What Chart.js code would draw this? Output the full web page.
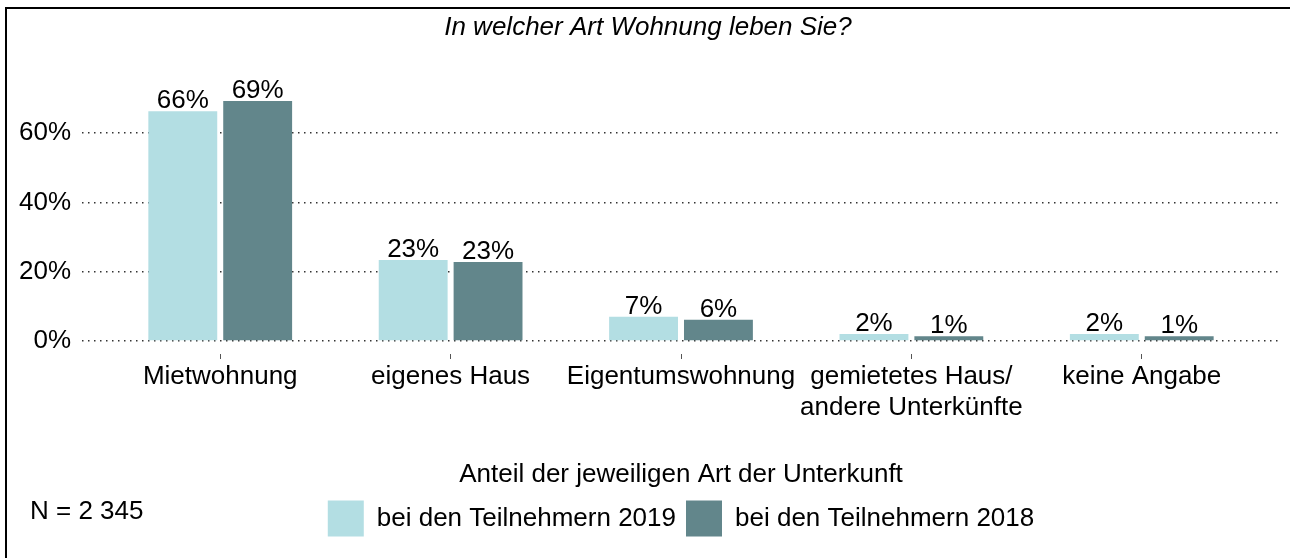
<!DOCTYPE html>
<html>
<head>
<meta charset="utf-8">
<script src="https://cdn.jsdelivr.net/npm/chart.js@4"></script>
<style>
  html, body { margin: 0; padding: 0; background: #fff; overflow: hidden; }
  #wrap { position: relative; width: 1290px; height: 558px; overflow: hidden; }
  #frame { position: absolute; left: 5px; top: 7px; width: 1400px; height: 700px;
           border-left: 2px solid #000; border-top: 2px solid #000; box-sizing: border-box; }
  canvas { position: absolute; left: 0; top: 0; }
</style>
</head>
<body>
<div id="wrap">
  <div id="frame"></div>
  <canvas id="c" width="1290" height="558"></canvas>
</div>
<script>
// ---- data ----
const categories = ['Mietwohnung', 'eigenes Haus', 'Eigentumswohnung', ['gemietetes Haus/', 'andere Unterkünfte'], 'keine Angabe'];
const values2019 = [66.3, 23.4, 7.0, 2.0, 2.0];
const values2018 = [69.2, 22.8, 6.1, 1.4, 1.4];
const seriesNames = ['bei den Teilnehmern 2019', 'bei den Teilnehmern 2018'];
const yTickValues = [0, 20, 40, 60];
const titleText = 'In welcher Art Wohnung leben Sie?';
const legendTitle = 'Anteil der jeweiligen Art der Unterkunft';
const noteText = 'N = 2 345';

const FONT = "'Liberation Sans', Arial, sans-serif";
const LIGHT = '#B3DEE3';
const DARK = '#62868B';

const toPoints = arr => arr.map((v, i) => ({ x: i, y: v }));

const valueLabels = {
  id: 'valueLabels',
  afterDatasetsDraw(chart) {
    const ctx = chart.ctx;
    ctx.save();
    ctx.font = '26px ' + FONT;
    ctx.fillStyle = '#000';
    ctx.textAlign = 'center';
    ctx.textBaseline = 'alphabetic';
    chart.data.datasets.forEach((ds, di) => {
      const meta = chart.getDatasetMeta(di);
      meta.data.forEach((bar, i) => {
        const v = ds.data[i].y;
        ctx.fillText(Math.round(v) + '%', bar.x, bar.y - 3);
      });
    });
    ctx.restore();
  }
};

const note = {
  id: 'note',
  afterDraw(chart) {
    const ctx = chart.ctx;
    ctx.save();
    ctx.font = '26px ' + FONT;
    ctx.fillStyle = '#000';
    ctx.textAlign = 'left';
    ctx.textBaseline = 'middle';
    ctx.fillText(noteText, 30, 512);
    ctx.restore();
  }
};

new Chart(document.getElementById('c'), {
  type: 'bar',
  data: {
    datasets: [
      { label: seriesNames[0], data: toPoints(values2019), backgroundColor: LIGHT, borderWidth: 0,
        categoryPercentage: 0.65, barPercentage: 0.92 },
      { label: seriesNames[1], data: toPoints(values2018), backgroundColor: DARK, borderWidth: 0,
        categoryPercentage: 0.65, barPercentage: 0.92 }
    ]
  },
  options: {
    responsive: false,
    animation: false,
    layout: { padding: { left: 16, right: 10, top: 0, bottom: 11.4 } },
    scales: {
      x: {
        type: 'linear',
        min: -0.6,
        max: 4.6,
        offset: false,
        afterBuildTicks: s => { s.ticks = categories.map((c, i) => ({ value: i })); },
        afterFit: s => { s.height = 121; },
        ticks: {
          color: '#000',
          font: { family: FONT, size: 26 },
          padding: 2,
          maxRotation: 0,
          autoSkip: false,
          callback: v => categories[v]
        },
        grid: {
          display: true,
          offset: false,
          drawOnChartArea: false,
          drawTicks: true,
          tickLength: 18,
          tickColor: '#555',
          tickWidth: 1,
          tickBorderDash: [0, 13, 5, 100]
        },
        border: { display: false }
      },
      y: {
        min: 0,
        max: 80,
        afterBuildTicks: s => { s.ticks = yTickValues.map(v => ({ value: v })); },
        afterFit: s => { s.width = 66; },
        ticks: {
          color: '#000',
          font: { family: FONT, size: 26 },
          padding: 11,
          callback: v => v + '%'
        },
        grid: { color: '#333', lineWidth: 1.5, drawTicks: false },
        border: { display: false, dash: [1.5, 4.5] }
      }
    },
    plugins: {
      title: {
        display: true,
        text: titleText,
        color: '#000',
        font: { family: FONT, size: 26, style: 'italic', weight: 'normal' },
        padding: { top: 12.4, bottom: 20.07 }
      },
      legend: {
        display: true,
        position: 'bottom',
        fullSize: false,
        title: {
          display: true,
          text: legendTitle,
          color: '#000',
          font: { family: FONT, size: 26, lineHeight: 1.1 },
          padding: 0
        },
        labels: {
          color: '#000',
          font: { family: FONT, size: 26 },
          boxWidth: 36,
          boxHeight: 36,
          padding: 10
        }
      },
      tooltip: { enabled: false }
    }
  },
  plugins: [valueLabels, note]
});
</script>
</body>
</html>
